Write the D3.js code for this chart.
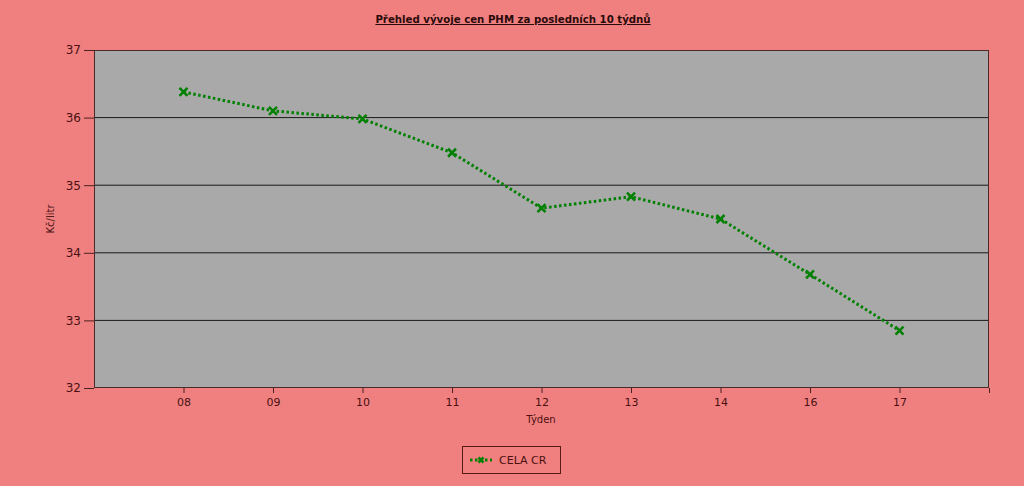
<!DOCTYPE html>
<html><head><meta charset="utf-8">
<script src="https://cdn.jsdelivr.net/npm/d3@7"></script>
<style>body{margin:0;background:#F08080;}svg{display:block;}</style>
</head><body>
<svg id="c" width="1024" height="486"></svg>
<script>
const categories = ["08","09","10","11","12","13","14","16","17"];
const values = [36.38, 36.10, 35.98, 35.48, 34.66, 34.83, 34.50, 33.68, 32.85];
const yTicks = [32,33,34,35,36,37];
const title = "Přehled vývoje cen PHM za posledních 10 týdnů";
const seriesName = "CELA CR";

const svg = d3.select("#c");
const m = {l:94, r:989, t:50, b:388};
const x = d3.scaleLinear().domain([0, categories.length+1]).range([m.l, m.r]);
const y = d3.scaleLinear().domain([32,37]).range([m.b, m.t]);
const font = "Tahoma, 'DejaVu Sans', sans-serif";
const txt = "#4a1010";

svg.append("rect").attr("x",m.l).attr("y",m.t).attr("width",m.r-m.l).attr("height",m.b-m.t).attr("fill","#A9A9A9");
svg.append("g").selectAll("line").data(yTicks.slice(1,-1)).join("line")
  .attr("x1",m.l).attr("x2",m.r).attr("y1",d=>y(d)).attr("y2",d=>y(d)).attr("stroke","#1a1a1a").attr("stroke-width",1);
svg.append("rect").attr("x",m.l+0.5).attr("y",m.t+0.5).attr("width",m.r-m.l-1).attr("height",m.b-m.t-1).attr("fill","none").attr("stroke","#4a2a2a");

const yAx = svg.append("g").attr("transform",`translate(${m.l},0)`)
  .call(d3.axisLeft(y).tickValues(yTicks).tickSize(10).tickPadding(3).tickFormat(d3.format("d")));
yAx.select(".domain").remove();
yAx.selectAll("line").attr("stroke","#4a2020");
yAx.selectAll("text").attr("fill",txt).attr("font-family",font).attr("font-size","12px");

const idx = d3.range(1, categories.length+2);
const xAx = svg.append("g").attr("transform",`translate(0,${m.b})`)
  .call(d3.axisBottom(x).tickValues(idx).tickSize(5).tickPadding(5).tickFormat(d=>categories[d-1]||""));
xAx.select(".domain").remove();
xAx.selectAll("line").attr("stroke","#4a2020");
xAx.selectAll("text").attr("fill",txt).attr("font-family",font).attr("font-size","11px");

const line = d3.line().x((d,i)=>x(i+1)).y(d=>y(d));
svg.append("path").datum(values).attr("d",line).attr("fill","none")
  .attr("stroke","#008000").attr("stroke-width",3).attr("stroke-dasharray","2.5,2.5");
const cross = (g, cx, cy, s) => {
  g.append("path").attr("d",`M${cx-s},${cy-s}L${cx+s},${cy+s}M${cx-s},${cy+s}L${cx+s},${cy-s}`)
   .attr("stroke","#008000").attr("stroke-width",2.5).attr("fill","none");
};
const mk = svg.append("g");
values.forEach((v,i)=>cross(mk, x(i+1), y(v), 4));

svg.append("text").attr("x",513).attr("y",23).attr("text-anchor","middle")
  .attr("font-family",font).attr("font-size","10.2px").attr("font-weight","bold")
  .attr("fill","#2a0a0a").attr("text-decoration","underline").text(title);
svg.append("text").attr("transform",`translate(54,219) rotate(-90)`).attr("text-anchor","middle")
  .attr("font-family",font).attr("font-size","10px").attr("fill",txt).text("Kč/litr");
svg.append("text").attr("x",541).attr("y",423).attr("text-anchor","middle")
  .attr("font-family",font).attr("font-size","10px").attr("fill",txt).text("Týden");

const lg = svg.append("g");
lg.append("rect").attr("x",462.5).attr("y",446.5).attr("width",98).attr("height",27).attr("fill","none").attr("stroke","#5a1a1a");
lg.append("line").attr("x1",470).attr("x2",492).attr("y1",460).attr("y2",460).attr("stroke","#008000").attr("stroke-width",3).attr("stroke-dasharray","2.5,2.5");
cross(lg, 481, 460, 2.5);
lg.append("text").attr("x",499).attr("y",464).attr("font-family",font).attr("font-size","11px").attr("fill",txt).text(seriesName);
</script>
</body></html>
